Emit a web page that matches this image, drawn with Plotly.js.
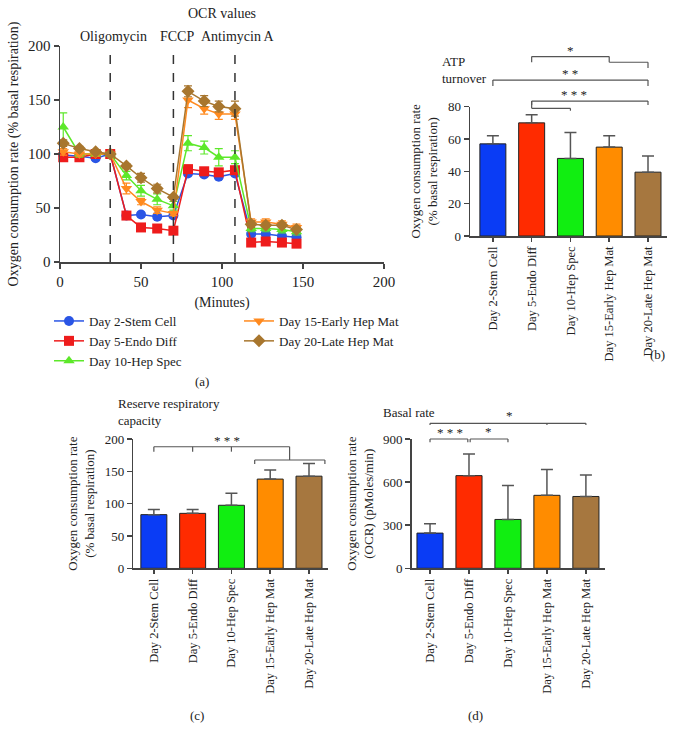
<!DOCTYPE html>
<html><head><meta charset="utf-8">
<script src="https://cdn.plot.ly/plotly-3.0.1.min.js"></script>
<style>html,body{margin:0;padding:0;background:#fff}#chart{width:676px;height:741px}</style>
</head><body><div id="chart"></div>
<script>
// ---------- data ----------
const groups = ['Day 2-Stem Cell','Day 5-Endo Diff','Day 10-Hep Spec','Day 15-Early Hep Mat','Day 20-Late Hep Mat'];
const minutes = [2,12,22,31, 41,50,60,70, 79,89,98,108, 118,127,137,146];
const ocrStem  = [99,98,96,100, 43,44,42,43, 82,81,79,82, 26,26,24,23];
const ocrEndo  = [97,97,100,100, 43,32,31,29, 86,84,83,85, 18,19,18,17];
const ocrSpec  = [125,100,100,100, 80,66,58,52, 110,106,97,97, 31,31,30,28];
const ocrEarly = [102,100,100,100, 68,56,48,45, 150,142,137,137, 37,37,35,32];
const ocrLate  = [110,105,102,100, 89,78,68,60, 158,149,144,142, 35,34,34,30];
const ocrStemErr  = [2,2,2,1, 2,2,2,2, 2,2,2,2, 2,2,2,2];
const ocrEndoErr  = [2,2,2,1, 2,2,2,2, 2,2,2,2, 2,2,2,2];
const ocrSpecErr  = [13,3,2,1, 4,5,5,4, 7,6,8,6, 3,3,3,3];
const ocrEarlyErr = [3,2,2,1, 5,3,3,2, 7,5,5,5, 3,3,3,3];
const ocrLateErr  = [3,2,2,1, 2,4,4,2, 5,5,5,7, 3,2,2,2];
const injections = ['Oligomycin','FCCP','Antimycin A'];
const injectionTimes = [31,70,108];
const atpTurnover = [57,70,48,55,39.5];
const atpTurnoverErr = [5,5,16,7,10];
const reserveCapacity = [83,85,97.5,138,142.5];
const reserveCapacityErr = [8,6,18.5,14,19.5];
const basalRate = [245,645,340,508,500];
const basalRateErr = [65,150,237,180,150];
// significance brackets: polylines in (group index, value) and star labels
const atpBrackets = [
  {lines:[[[1,107.5],[1,111],[3,111],[3,107.5],[4,107.5],[4,104]]], label:'*', at:[2,115]},
  {lines:[[[0,92.8],[0,96.5],[4,96.5],[4,92.8]]], label:'* *', at:[2,100.5]},
  {lines:[[[1,81],[1,83.5],[4,83.5],[4,81]],[[1,83.5],[1,79],[2,79],[2,77.5]]], label:'* * *', at:[2.1,87.5]}
];
const reserveBrackets = [
  {lines:[[[0,180.4],[0,188],[3.5,188],[3.5,167.5]],[[1,188],[1,180.4]],[[2,188],[2,180.4]],
          [[2.6,161.3],[2.6,167.5],[4.41,167.5],[4.41,161.3]]], label:'* * *', at:[1.88,197]}
];
const basalBrackets = [
  {lines:[[[0,997],[0,1009],[4,1009],[4,997]],[[3,1009],[3,997]]], label:'*', at:[2.05,1065]},
  {lines:[[[0,877],[0,900],[0.97,900],[0.97,877]]], label:'* * *', at:[0.5,945]},
  {lines:[[[1.03,877],[1.03,900],[2,900],[2,877]]], label:'*', at:[1.5,950]}
];

// ---------- styles ----------
const FONT = '"Liberation Serif", "DejaVu Serif", serif';
const TXT = '#222';
const lineColors = ['#2a55e5','#ee1c1c','#5de82a','#ff8a1f','#a8762e'];
const symbols = ['circle','square','triangle-up','triangle-down','diamond'];
const barColors = ['#0a3cf5','#ff2b00','#11ee11','#ff8c00','#a6773f'];
const W = 676, H = 741;
const px = v => v / W, py = v => 1 - v / H;

const axBase = {showgrid:false, zeroline:false, showline:true, linecolor:'#444', linewidth:1.5,
  ticks:'outside', ticklen:5, tickwidth:1.5, tickcolor:'#444',
  tickfont:{family:FONT, size:13, color:TXT}, automargin:false, fixedrange:true};

const xa = Object.assign({}, axBase, {domain:[px(60),px(384)], range:[0,200], dtick:50, anchor:'y',
  tickfont:{family:FONT, size:15, color:TXT},
  title:{text:'(Minutes)', font:{family:FONT,size:14,color:TXT}, standoff:8}});
const ya = Object.assign({}, axBase, {domain:[py(262),py(46)], range:[0,200], dtick:50, anchor:'x',
  tickfont:{family:FONT, size:15, color:TXT},
  title:{text:'Oxygen consumption rate (% basal respiration)', font:{family:FONT,size:14,color:TXT}, standoff:6}});
const catAx = Object.assign({}, axBase, {type:'category', tickangle:-90, ticklen:4,
  tickfont:{family:FONT, size:12.5, color:TXT}});
const xb = Object.assign({}, catAx, {domain:[px(470),px(667)], range:[-0.59,4.49], anchor:'y2'});
const yb = Object.assign({}, axBase, {domain:[py(236),py(106.7)], range:[0,80], dtick:20, anchor:'x2',
  title:{text:'Oxygen consumption rate<br>(% basal respiration)', font:{family:FONT,size:13,color:TXT}, standoff:7}});
const xc = Object.assign({}, catAx, {domain:[px(133.3),px(328)], range:[-0.53,4.49], anchor:'y3'});
const yc = Object.assign({}, axBase, {domain:[py(568.3),py(439)], range:[0,200], dtick:50, anchor:'x3',
  title:{text:'Oxygen consumption rate<br>(% basal respiration)', font:{family:FONT,size:13,color:TXT}, standoff:7}});
const xd = Object.assign({}, catAx, {domain:[px(411.7),px(605)], range:[-0.47,4.49], anchor:'y4'});
const yd = Object.assign({}, axBase, {domain:[py(568.3),py(439)], range:[0,900], dtick:300, anchor:'x4',
  title:{text:'Oxygen consumption rate<br>(OCR) (pMoles/min)', font:{family:FONT,size:13,color:TXT}, standoff:6}});

// ---------- traces ----------
const series = [ocrStem, ocrEndo, ocrSpec, ocrEarly, ocrLate];
const seriesErr = [ocrStemErr, ocrEndoErr, ocrSpecErr, ocrEarlyErr, ocrLateErr];
const traces = series.map((s, i) => ({
  type:'scatter', mode:'lines+markers', x:minutes, y:s, name:groups[i], xaxis:'x', yaxis:'y',
  legend: i < 3 ? 'legend' : 'legend2', cliponaxis:false,
  line:{color:lineColors[i], width:1.5},
  marker:{symbol:symbols[i], size:10, color:lineColors[i]},
  error_y:{type:'data', array:seriesErr[i], color:lineColors[i], thickness:1.2, width:4}
}));
function barTrace(vals, errs, xaxis, yaxis){
  return {type:'bar', x:groups, y:vals, xaxis, yaxis, showlegend:false,
    marker:{color:barColors, line:{color:'#222', width:1}},
    error_y:{type:'data', array:errs, arrayminus:errs.map(()=>0), symmetric:false, color:'#555', thickness:1.5, width:6}};
}
traces.push(barTrace(atpTurnover, atpTurnoverErr, 'x2', 'y2'));
traces.push(barTrace(reserveCapacity, reserveCapacityErr, 'x3', 'y3'));
traces.push(barTrace(basalRate, basalRateErr, 'x4', 'y4'));

// ---------- shapes & annotations ----------
const shapes = injectionTimes.map(t => ({type:'line', xref:'x', yref:'y', x0:t, x1:t, y0:0, y1:200,
  line:{color:'#333', width:1.5, dash:'dash'}}));
const annotations = [];
function mapV(axis, v){ const d = axis.domain, r = axis.range; return d[0] + (v - r[0]) / (r[1] - r[0]) * (d[1] - d[0]); }
function addBrackets(list, xaxis, yaxis){
  list.forEach(b => {
    b.lines.forEach(pl => {
      for (let k = 0; k < pl.length - 1; k++) {
        shapes.push({type:'line', xref:'paper', yref:'paper',
          x0:mapV(xaxis, pl[k][0]), y0:mapV(yaxis, pl[k][1]), x1:mapV(xaxis, pl[k+1][0]), y1:mapV(yaxis, pl[k+1][1]),
          line:{color:'#555', width:1.2}});
      }
    });
    annotations.push({xref:'paper', yref:'paper', x:mapV(xaxis, b.at[0]), y:mapV(yaxis, b.at[1]),
      text:b.label, showarrow:false, font:{family:FONT, size:13, color:TXT}, xanchor:'center', yanchor:'middle'});
  });
}
addBrackets(atpBrackets, xb, yb);
addBrackets(reserveBrackets, xc, yc);
addBrackets(basalBrackets, xd, yd);

const txt = (text, x, y, opts) => annotations.push(Object.assign({xref:'paper', yref:'paper', x:px(x), y:py(y), text,
  showarrow:false, font:{family:FONT, size:13, color:TXT}, xanchor:'center', yanchor:'middle'}, opts || {}));
txt('OCR values', 222, 13, {font:{family:FONT, size:14, color:TXT}});
injections.forEach((name, i) => annotations.push({xref:'x', yref:'paper', x:injectionTimes[i] + 2, y:py(36), text:name,
  showarrow:false, font:{family:FONT, size:14, color:TXT}, xanchor:'center', yanchor:'middle'}));
txt('ATP<br>turnover', 440, 70, {xanchor:'left', align:'left'});
txt('Reserve respiratory<br>capacity', 116, 412, {xanchor:'left', align:'left'});
txt('Basal rate', 381, 412, {xanchor:'left', align:'left'});
txt('(a)', 202, 381);
txt('(b)', 657, 354);
txt('(c)', 197, 715);
txt('(d)', 475, 715);

const legendBase = {xanchor:'left', yanchor:'top', font:{family:FONT, size:13, color:TXT},
  bgcolor:'rgba(0,0,0,0)', borderwidth:0, orientation:'v', tracegroupgap:0};

const layout = {
  width:W, height:H, margin:{l:0, r:0, t:0, b:0}, paper_bgcolor:'#fff', plot_bgcolor:'#fff',
  font:{family:FONT, size:13, color:TXT}, bargap:0.33, showlegend:true,
  xaxis:xa, yaxis:ya, xaxis2:xb, yaxis2:yb, xaxis3:xc, yaxis3:yc, xaxis4:xd, yaxis4:yd,
  legend:Object.assign({}, legendBase, {x:px(49), y:py(306)}),
  legend2:Object.assign({}, legendBase, {x:px(239), y:py(306)}),
  shapes, annotations
};
Plotly.newPlot('chart', traces, layout, {displayModeBar:false, staticPlot:true});
</script></body></html>
